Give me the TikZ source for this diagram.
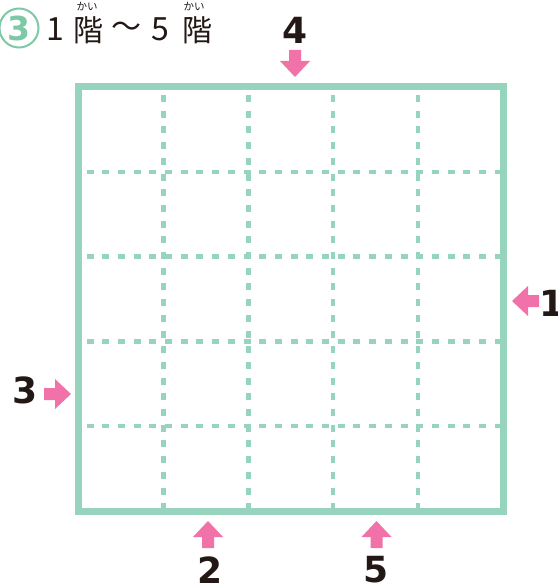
\documentclass[tikz,border=0pt]{standalone}
\usepackage{fontspec}
\newfontfamily\jp{Noto Sans CJK JP}
\newfontfamily\numf{DejaVu Sans}
\definecolor{gridgreen}{RGB}{150,212,190}
\definecolor{circgreen}{RGB}{125,200,165}
\definecolor{pinkc}{RGB}{241,114,168}
\definecolor{ink}{RGB}{35,24,21}
\begin{document}
\begin{tikzpicture}[x=1pt,y=-1pt,
  numlabel/.style={inner sep=0pt,text=ink,font=\numf\bfseries\fontsize{36}{36}\selectfont},
  titletxt/.style={inner sep=0pt,text=ink,font=\jp\fontsize{30}{30}\selectfont},
  rubytxt/.style={inner sep=0pt,text=ink,font=\jp\fontsize{10.5}{10.5}\selectfont},
  border/.style={draw=gridgreen,line width=7pt},
  gridline/.style={draw=gridgreen,line width=4.5pt,dash pattern=on 7pt off 8.7pt,dash phase=7.7pt},
  pinkarrow/.pic={\fill[pinkc] (0,0) -- (15,16) -- (6,16) -- (6,27) -- (-6,27) -- (-6,16) -- (-15,16) -- cycle;}
]
\useasboundingbox (0,0) rectangle (557,588);
% title
\draw[circgreen,line width=2pt] (19,28) circle (19.5);
\node[inner sep=0pt,text=circgreen,font=\numf\bfseries\fontsize{33}{33}\selectfont] (c3) at (19,28) {3};
\node[titletxt,font=\jp\fontsize{32}{32}\selectfont] (t1) at (55,29.5) {1};
\node[titletxt] (tk1) at (88,30) {階};
\node[rubytxt] (r1) at (87,7) {かい};
\node[titletxt] (tw) at (126,30) {〜};
\node[titletxt,font=\jp\fontsize{32}{32}\selectfont] (t5) at (160,29.5) {5};
\node[titletxt] (tk2) at (197,30) {階};
\node[rubytxt] (r2) at (194,7) {かい};
% grid
\coordinate (nw) at (78.5,87);
\coordinate (se) at (503,511);
\foreach \i in {1,2,3,4}{
  \draw[gridline] (78.5+84.9*\i,87) -- (78.5+84.9*\i,511);
  \draw[gridline] (78.5,87+84.8*\i) -- (503,87+84.8*\i);
}
\draw[border] (nw) rectangle (se);
% arrows and labels
\pic (a4) at (295,77) [rotate=180] {pinkarrow};
\node[numlabel] (n4) at (295,30) {4};
\pic (a1) at (512,301) [rotate=90] {pinkarrow};
\node[numlabel] (n1) at (552,303) {1};
\pic (a3) at (71,394) [rotate=-90] {pinkarrow};
\node[numlabel] (n3) at (25,390) {3};
\pic (a2) at (208,521) {pinkarrow};
\node[numlabel] (n2) at (210,570) {2};
\pic (a5) at (376.5,521) {pinkarrow};
\node[numlabel] (n5) at (376,570) {5};
\end{tikzpicture}
\end{document}
